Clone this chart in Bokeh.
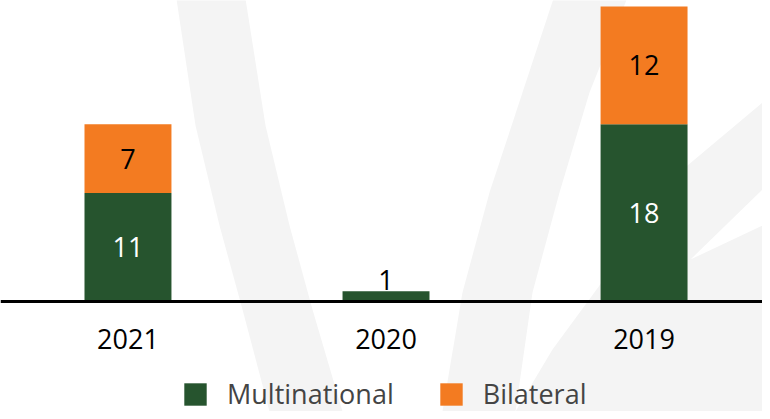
import numpy as np
from bokeh.plotting import figure
from bokeh.models import Range1d, FixedTicker, ColumnDataSource, Legend, LegendItem
from bokeh.core.properties import value
from bokeh.embed import file_html
from bokeh.resources import INLINE

# ---- data ----
years = ["2021", "2020", "2019"]
multinational = [11, 1, 18]
bilateral = [7, 0, 12]
series_names = ["Multinational", "Bilateral"]

GREEN = "#26542E"
ORANGE = "#F37B21"
WATERMARK = "#F4F4F4"
FONT = "Open Sans"
FSIZE = "27px"

# decorative background watermark (page-pixel coordinates, not data)
wm_xs = [
    [183, 203, 227, 250, 277, 350, 320, 297, 273, 252],
    [563, 530, 497, 470, 450, 523, 540, 567, 597, 637],
    [523, 560, 607, 650, 695, 770, 770, 698, 770, 770],
]
wm_ys = [
    [0, 133, 233, 317, 419, 419, 317, 233, 133, 0],
    [0, 100, 200, 300, 419, 419, 300, 200, 100, 0],
    [419, 357, 293, 230, 173, 110, 197, 267, 233, 419],
]

x = np.arange(len(years))
m = np.array(multinational, dtype=float)
b = np.array(bilateral, dtype=float)

p = figure(width=762, height=411, output_backend="svg", toolbar_location=None,
           x_range=Range1d(-0.494, 2.459), y_range=Range1d(-11.25, 30.60),
           min_border=0, y_axis_location=None)
p.extra_x_ranges = {"wm": Range1d(8, 770)}
p.extra_y_ranges = {"wm": Range1d(419, 8)}
p.outline_line_color = None
p.xgrid.visible = False
p.ygrid.visible = False
p.background_fill_color = "white"

p.patches(xs=wm_xs, ys=wm_ys, fill_color=WATERMARK, line_color=None,
          x_range_name="wm", y_range_name="wm")

src = ColumnDataSource(dict(x=x, Multinational=m, Bilateral=b))
rs = p.vbar_stack(series_names, x="x", width=0.337, color=[GREEN, ORANGE],
                  line_color=None, source=src)

# labels
inside_m = m >= 3
inside_b = b >= 3
p.text(x=x[inside_m], y=(m / 2)[inside_m], text=[str(int(v)) for v in m[inside_m]],
       text_font=value(FONT), text_font_size=FSIZE, text_align="center",
       text_baseline="middle", text_color="white")
p.text(x=x[inside_b], y=(m + b / 2)[inside_b], text=[str(int(v)) for v in b[inside_b]],
       text_font=value(FONT), text_font_size=FSIZE, text_align="center",
       text_baseline="middle", text_color="black")
small_m = (m > 0) & ~inside_m
p.text(x=x[small_m], y=(m + b)[small_m], text=[str(int(v)) for v in m[small_m]],
       text_font=value(FONT), text_font_size=FSIZE, text_align="center",
       text_baseline="bottom", text_color="black", y_offset=-1)

ax = p.xaxis[0]
ax.fixed_location = 0
ax.ticker = FixedTicker(ticks=[float(v) for v in x])
ax.major_label_overrides = {int(i): yr for i, yr in zip(x, years)}
ax.axis_line_width = 3
ax.axis_line_color = "black"
ax.major_tick_line_color = None
ax.minor_tick_line_color = None
ax.major_label_text_font = FONT
ax.major_label_text_font_size = FSIZE
ax.major_label_text_color = "black"
ax.major_label_standoff = 22

legend = Legend(items=[LegendItem(label=series_names[0], renderers=[rs[0]]),
                       LegendItem(label=series_names[1], renderers=[rs[1]])],
                orientation="horizontal", location=(181, -1),
                glyph_width=28, glyph_height=28, label_standoff=18, spacing=43,
                padding=0, margin=0, border_line_color=None,
                background_fill_alpha=0, label_text_font=FONT,
                label_text_font_size=FSIZE, label_height=28)
p.add_layout(legend)

open("out.html", "w").write(file_html(p, INLINE))
